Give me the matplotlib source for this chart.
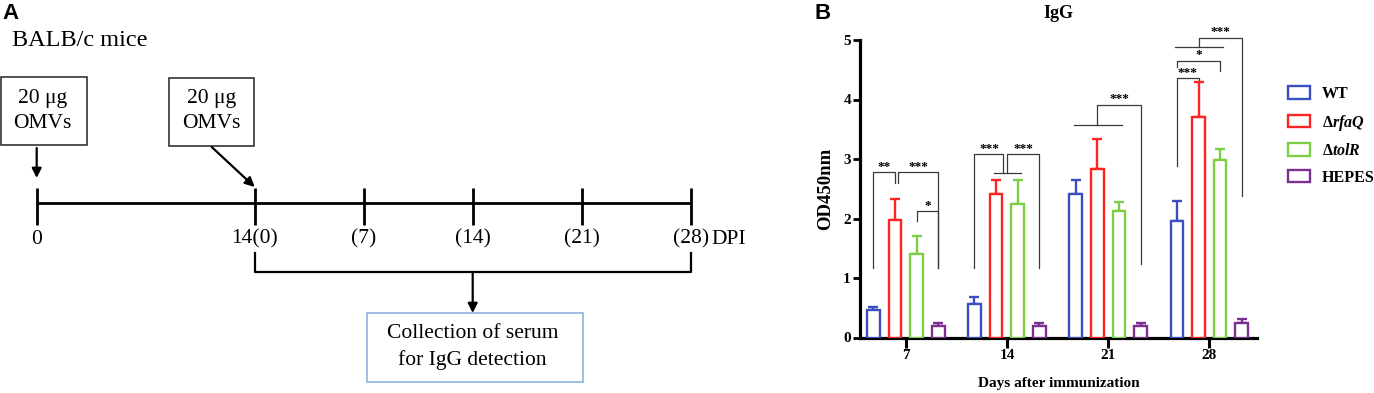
import matplotlib
matplotlib.use("Agg")
import matplotlib.pyplot as plt
from matplotlib.patches import Rectangle
import numpy as np

plt.rcParams['font.family'] = ['Liberation Serif', 'DejaVu Serif']
plt.rcParams['mathtext.fontset'] = 'custom'
plt.rcParams['mathtext.it'] = 'Liberation Serif:italic:bold'
plt.rcParams['mathtext.rm'] = 'Liberation Serif:bold'
plt.rcParams['mathtext.bf'] = 'Liberation Serif:bold'

# ---------------- data ----------------
days = ['7', '14', '21', '28']
groups = ['WT', 'Δ$\\mathit{rfaQ}$', 'Δ$\\mathit{tolR}$', 'HEPES']
colors = ['#3c4fc2', '#ff2424', '#7ccf44', '#7b2f8f']
wt_mean = [0.47, 0.57, 2.41, 1.95]
wt_err = [0.04, 0.11, 0.24, 0.34]
rfaq_mean = [1.98, 2.41, 2.84, 3.70]
rfaq_err = [0.34, 0.24, 0.49, 0.59]
tolr_mean = [1.41, 2.24, 2.13, 2.99]
tolr_err = [0.29, 0.40, 0.14, 0.17]
hepes_mean = [0.19, 0.19, 0.20, 0.24]
hepes_err = [0.05, 0.06, 0.05, 0.07]
means = [wt_mean, rfaq_mean, tolr_mean, hepes_mean]
errs = [wt_err, rfaq_err, tolr_err, hepes_err]

# timeline (panel A)
tl_days = [0, 14, 21, 28, 35, 42]
tl_labels = ['0', '14(0)', '(7)', '(14)', '(21)', '(28)']

# significance brackets: (group, left, right, top, left_bottom, right_bottom, label)
# left/right: bar index, 'c' = group centre, 'cl' = just left of centre,
# 'r+' = just right of red bar, 'm' = midpoint of bars 0..2
brackets = [
    (0, 0, 1, 2.78, 1.16, 2.60, '**'),
    (0, 'r+', 3, 2.78, 2.60, 1.16, '***'),
    (0, 2, 3, 2.12, 1.95, 1.16, '*'),
    (1, 0, 'cl', 3.08, 1.16, 2.76, '***'),
    (1, 'c', 3, 3.08, 2.76, 1.16, '***'),
    (2, 'm', 3, 3.91, 3.57, 1.24, '***'),
    (3, 0, 1, 4.36, 2.88, 4.33, '***'),
    (3, 0, 2, 4.65, 4.55, 4.48, '*'),
    (3, 'm', 3, 5.04, 4.88, 2.38, '***'),
]
# horizontal grouping lines: (group, from bar, to bar, y)
group_lines = [(1, 1, 2, 2.76), (2, 0, 2, 3.57), (3, 0, 2, 4.88)]

# ---------------- figure ----------------
fig = plt.figure(figsize=(13.74, 3.93), dpi=100)

# ======== Panel A ========
axA = fig.add_axes([0, 0, 0.6, 1])
axA.axis('off')
ppd = 654.0 / 42.0
axA.set_xlim(-36.7 / ppd, (0.6 * 1374 - 36.7) / ppd)
axA.set_ylim(393, 0)
fsA = 15.5

axA.text(-1.61, 40, 'BALB/c mice', fontsize=17.5, ha='left', va='center')

# injection boxes
for (x0, x1, y0, y1, tx) in [(-2.3, 3.23, 77, 145, 0.38), (8.50, 13.98, 78, 146, 11.24)]:
    axA.add_patch(Rectangle((x0, y0), x1 - x0, y1 - y0, fill=False, lw=1.1,
                            edgecolor='#222222'))
    axA.text(tx, (y0 + y1) / 2 - 13, '20 μg', fontsize=fsA, ha='center', va='center')
    axA.text(tx, (y0 + y1) / 2 + 12, 'OMVs', fontsize=fsA, ha='center', va='center')

arr = dict(arrowstyle='-|>', color='black', lw=1.6, mutation_scale=14, shrinkA=0, shrinkB=0)
axA.annotate('', xy=(tl_days[0], 178), xytext=(tl_days[0], 148), arrowprops=arr)
axA.annotate('', xy=(tl_days[1], 187), xytext=(11.24, 147), arrowprops=arr)

# timeline
axA.plot([tl_days[0], tl_days[-1]], [203, 203], color='black', lw=2.0, solid_capstyle='butt')
for d, lab in zip(tl_days, tl_labels):
    axA.plot([d, d], [188, 225], color='black', lw=2.0, solid_capstyle='butt')
    axA.text(d, 239, lab, fontsize=fsA, ha='center', va='center')
axA.text(43.35, 239, 'DPI', fontsize=fsA, ha='left', va='center')

# collection bracket
axA.plot([tl_days[1], tl_days[1], tl_days[-1], tl_days[-1]], [253, 272, 272, 253],
         color='black', lw=1.6)
mid = (tl_days[1] + tl_days[-1]) / 2
axA.annotate('', xy=(mid, 313), xytext=(mid, 272), arrowprops=arr)
axA.add_patch(Rectangle((21.21, 313), 35.08 - 21.21, 382 - 313, fill=False, lw=1.2,
                        edgecolor='#8fb3e0'))
axA.text(mid, 334, 'Collection of serum', fontsize=fsA, ha='center', va='center')
axA.text(mid, 360, 'for IgG detection', fontsize=fsA, ha='center', va='center')

fig.text(2 / 1374, 1 - 3 / 393, 'A', fontsize=16, fontweight='bold', ha='left', va='top',
         family='Liberation Sans')
fig.text(814 / 1374, 1 - 3 / 393, 'B', fontsize=16, fontweight='bold', ha='left', va='top',
         family='Liberation Sans')

# ======== Panel B ========
ax = fig.add_axes([860 / 1374, 1 - 337.5 / 393, 397 / 1374, 297.5 / 393])
x = np.arange(len(days))
offsets = [-0.321, -0.107, 0.107, 0.321]
width = 0.125
for k in range(4):
    ax.bar(x + offsets[k], means[k], width=width, facecolor='white', edgecolor=colors[k],
           linewidth=1.7, label=groups[k], zorder=3)
    ax.errorbar(x + offsets[k], means[k], yerr=[np.zeros(len(days)), errs[k]], fmt='none',
                ecolor=colors[k], elinewidth=1.7, capsize=3.4, capthick=1.7, zorder=2)


def bx(g, key):
    if key == 'c':
        return g
    if key == 'cl':
        return g - 0.035
    if key == 'r+':
        return g + offsets[1] + 0.03
    if key == 'm':
        return g + (offsets[0] + offsets[2]) / 2
    return g + offsets[key]


lc = '#3a3a3a'
for (g, l, r, top, lb, rb, lab) in brackets:
    xl, xr = bx(g, l), bx(g, r)
    ax.plot([xl, xl, xr, xr], [lb, top, top, rb], color=lc, lw=0.9, clip_on=False, zorder=4)
    ax.text((xl + xr) / 2, top + 0.04, lab, fontsize=9.5, fontweight='bold', ha='center',
            va='baseline', clip_on=False)
for (g, a, b, y) in group_lines:
    xa, xb = g + offsets[a] - 0.02, g + offsets[b] + 0.03
    ax.plot([xa, xb], [y, y], color=lc, lw=0.9, clip_on=False, zorder=4)

ax.set_xlim(-0.452, 3.471)
ax.set_ylim(0, 5)
ax.set_yticks(range(0, 6))
ax.set_xticks(x)
ax.set_xticklabels(days)
for s in ['top', 'right']:
    ax.spines[s].set_visible(False)
for s in ['left', 'bottom']:
    ax.spines[s].set_linewidth(2.3)
ax.tick_params(axis='y', length=5, width=2.0, pad=1.5, labelsize=11)
ax.tick_params(axis='x', length=7, width=2.2, pad=1.5, labelsize=11)
for t in ax.get_xticklabels() + ax.get_yticklabels():
    t.set_fontweight('bold')
ax.set_ylabel('OD450nm', fontsize=13.5, fontweight='bold')
ax.yaxis.set_label_coords(-0.066, 0.5)
ax.set_xlabel('Days after immunization', fontsize=11, fontweight='bold')
ax.xaxis.set_label_coords(0.5, -0.133)
ax.set_title('IgG', fontsize=13, fontweight='bold', y=(337.5 - 13) / 297.5, va='center', pad=0)

leg = ax.legend(loc='upper left', bbox_to_anchor=(1288 / 1374, 1 - 86 / 393),
                bbox_transform=fig.transFigure, frameon=False, borderpad=0, borderaxespad=0,
                handlelength=1.4, handleheight=0.85, handletextpad=0.7, labelspacing=0.66,
                prop={'weight': 'bold', 'size': 11.5})

fig.savefig('out.png', dpi=100)
